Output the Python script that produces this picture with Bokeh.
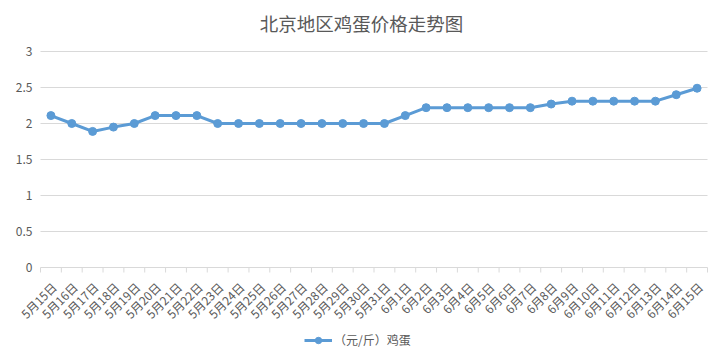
import math
from bokeh.plotting import figure
from bokeh.models import Legend, LegendItem, ColumnDataSource, Range1d
from bokeh.core.properties import value
from bokeh.embed import file_html
from bokeh.resources import INLINE

# ---- data ----
dates = ["5月%d日" % d for d in range(15, 32)] + ["6月%d日" % d for d in range(1, 16)]
prices = [2.11, 2.0, 1.89, 1.95, 2.0, 2.11, 2.11, 2.11,
          2.0, 2.0, 2.0, 2.0, 2.0, 2.0, 2.0, 2.0, 2.0,
          2.11, 2.22, 2.22, 2.22, 2.22, 2.22, 2.22, 2.27,
          2.31, 2.31, 2.31, 2.31, 2.31, 2.4, 2.49]
series_name = "（元/斤）鸡蛋"
title_text = "北京地区鸡蛋价格走势图"
y_ticks = [0, 0.5, 1, 1.5, 2, 2.5, 3]
y_labels = ["0", "0.5", "1", "1.5", "2", "2.5", "3"]

FONT = "Noto Sans CJK SC"
GRAY = "#595959"
GRID = "#d9d9d9"
BLUE = "#5B9BD5"

# ---- layout (pixels) ----
W, H = 723, 357
LEFT, RIGHT = 40, 16
PLOT_TOP, PLOT_BOTTOM = 51, 267          # pixel rows of y=3 and y=0
FW = W - LEFT - RIGHT
n = len(dates)
ymax = y_ticks[-1]
ppy = (PLOT_BOTTOM - PLOT_TOP) / ymax    # pixels per y unit
ppx = FW / n                             # pixels per category
y_start = -(H - PLOT_BOTTOM) / ppy
y_end = ymax + PLOT_TOP / ppy

xs = [i + 0.5 for i in range(n)]
src = ColumnDataSource(dict(x=xs, y=prices))

p = figure(frame_width=W, frame_height=H, output_backend="svg", toolbar_location=None,
           x_range=Range1d(-LEFT / ppx, n + RIGHT / ppx), y_range=Range1d(y_start, y_end),
           min_border_left=0, min_border_right=0, min_border_top=0, min_border_bottom=0)
p.outline_line_color = None
p.background_fill_color = "white"
p.xaxis.visible = False
p.yaxis.visible = False
p.xgrid.grid_line_color = None
p.ygrid.grid_line_color = None

# horizontal gridlines (value axis)
p.segment(x0=[0] * len(y_ticks), y0=y_ticks, x1=[n] * len(y_ticks), y1=y_ticks,
          line_color=GRID, line_width=1)

# value axis labels
p.text(x=[-8 / ppx] * len(y_ticks), y=y_ticks, text=y_labels,
       text_align="right", text_baseline="middle",
       text_font=value(FONT), text_font_size=value("12px"), text_color=GRAY)

# category boundary tick marks
bounds = list(range(n + 1))
p.segment(x0=bounds, y0=[0] * len(bounds), x1=bounds, y1=[-5 / ppy] * len(bounds),
          line_color=GRID, line_width=1)

# rotated category labels
p.text(x=[x + 3 / ppx for x in xs], y=[-17 / ppy] * n, text=dates,
       angle=math.pi / 4, text_align="right", text_baseline="middle",
       text_font=value(FONT), text_font_size=value("12px"), text_color=GRAY)

# title
p.text(x=[(361 - LEFT) / ppx], y=[ymax + (PLOT_TOP - 22) / ppy], text=[title_text],
       text_align="center", text_baseline="middle",
       text_font=value(FONT), text_font_size=value("18.5px"), text_color=GRAY)

ln = p.line("x", "y", source=src, line_color=BLUE, line_width=3)
sc = p.scatter("x", "y", source=src, size=8, fill_color=BLUE, line_color=BLUE)

legend = Legend(items=[LegendItem(label=series_name, renderers=[ln, sc])],
                orientation="horizontal", location=(304, 9),
                label_text_font=FONT, label_text_font_size="12px", label_text_color=GRAY,
                glyph_width=28, glyph_height=16, label_height=16,
                border_line_color=None, background_fill_alpha=0,
                margin=0, padding=4, label_standoff=2)
p.add_layout(legend, "center")

open("out.html", "w").write(file_html(p, INLINE))
